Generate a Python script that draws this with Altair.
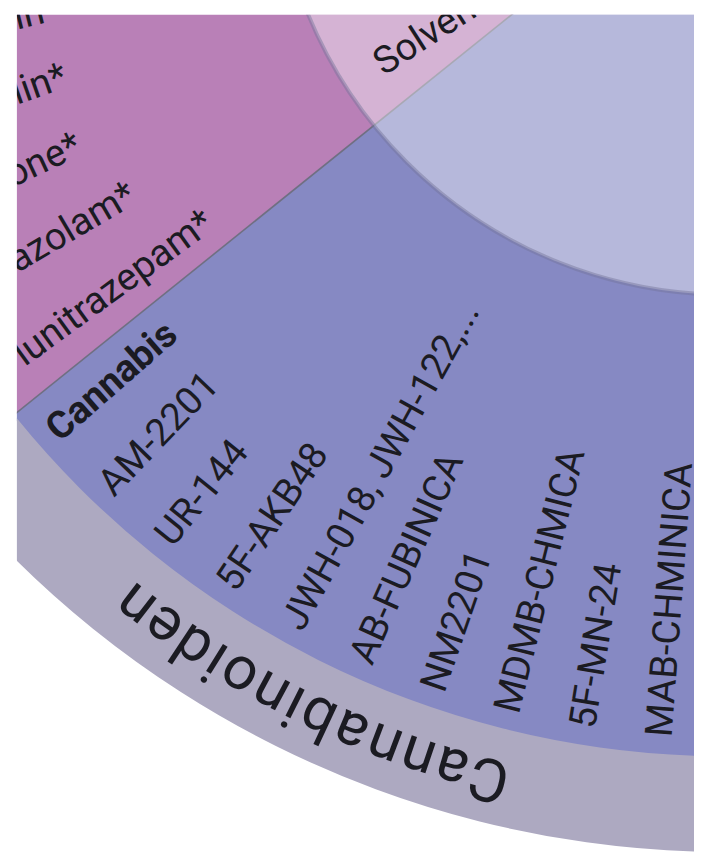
import math
import altair as alt
import pandas as pd

# ---------------- data ----------------
# leaves of the middle ring, in clockwise order (increasing angle)
leaf_labels = ["MAB-CHMINICA", "5F-MN-24", "MDMB-CHMICA", "NM2201", "AB-FUBINICA",
               "JWH-018, JWH-122,...", "5F-AKB48", "UR-144", "AM-2201", "Cannabis",
               "Flunitrazepam*", "Alprazolam*", "Zopiclone*", "Pregabalin*", "Gabapentin"]
leaf_groups = ["Cannabinoiden"] * 10 + ["Sedativa"] * 5
leaf_values = [1.0] * 10 + [1.12] * 5
leaf_bold = [False] * 9 + [True] + [False] * 5
group_names = ["Cannabinoiden", "Sedativa"]
inner_labels = ["Solventen"]
inner_label_angles = [237.3]          # degrees
arc_label_centre_deg = 206.0          # centre of the curved group label
start_angle_deg = 181.8               # first leaf starts here
deg_per_unit = 4.94

# ---------------- layout / style ----------------
W, H = 685, 847
CX, CY = 718, -175          # centre of the (cropped) sunburst, plot coords
R_DISC, R_MID, R_OUT = 458, 925, 1022
R_LABEL, R_INNER_LABEL, R_ARC_LABEL = 908, 420, 976
FONT = "Roboto"
LEAF_FS, ARC_FS, ARC_TRACK = 38.5, 61, 2.6
TXT = "#1b1b22"
group_colors = ["#8689C3", "#B980B7"]
ring_colors = ["#ADA9C1", "#C4A9C3"]

# ---------------- tables ----------------
rows, acc = [], start_angle_deg
for lab, g, v, b in zip(leaf_labels, leaf_groups, leaf_values, leaf_bold):
    t0 = acc
    acc += v * deg_per_unit
    rows.append({"label": lab, "group": g, "t0": math.radians(t0),
                 "t1": math.radians(acc), "tm": math.radians((t0 + acc) / 2), "bold": b})
leaves = pd.DataFrame(rows)
groups = leaves.groupby("group", sort=False).agg(t0=("t0", "min"), t1=("t1", "max")).reset_index()
bounds = pd.DataFrame({"t": [groups["t1"].iloc[0]]})
disc = pd.DataFrame({"t0": [0.0], "t1": [2 * math.pi]})
inner = pd.DataFrame({"label": inner_labels, "tm": [math.radians(a) for a in inner_label_angles]})

# letters of the curved group label (tops outward, reading clockwise)
adv_em = {"C": .653, "a": .544, "n": .552, "b": .561, "i": .243, "o": .570, "d": .563, "e": .529}
word = "Cannabinoiden"
adv = [adv_em.get(c, .55) * ARC_FS for c in word]
centres, xacc = [], 0.0
for a in adv:
    centres.append(xacc + a / 2)
    xacc += a + ARC_TRACK
mid = (centres[0] + centres[-1]) / 2
tmid = math.radians(arc_label_centre_deg)
letters = pd.DataFrame({"ch": list(word),
                        "tm": [tmid + (p - mid) / R_ARC_LABEL for p in centres]})

color_scale = alt.Scale(domain=group_names, range=group_colors)
ring_scale = alt.Scale(domain=group_names, range=ring_colors)


def pos_enc():
    return dict(x=alt.X("px:Q", scale=None, axis=None), y=alt.Y("py:Q", scale=None, axis=None))


wedges = alt.Chart(groups).mark_arc(radius=R_MID + 2, radius2=0, x=CX, y=CY, clip=True).encode(
    theta=alt.Theta("t0:Q", scale=None), theta2="t1:Q",
    color=alt.Color("group:N", scale=color_scale, legend=None))

ring = alt.Chart(groups).mark_arc(radius=R_OUT, radius2=R_MID, x=CX, y=CY, clip=True).encode(
    theta=alt.Theta("t0:Q", scale=None), theta2="t1:Q",
    fill=alt.Fill("group:N", scale=ring_scale, legend=None))

sep = alt.Chart(bounds).transform_calculate(
    x0=f"{CX}", y0=f"{CY}",
    x1=f"{CX} + {R_MID} * sin(datum.t)", y1=f"{CY} - {R_MID} * cos(datum.t)"
).mark_rule(color="#6f6f82", strokeWidth=1.6, clip=True).encode(
    x=alt.X("x0:Q", scale=None, axis=None), y=alt.Y("y0:Q", scale=None, axis=None),
    x2="x1:Q", y2="y1:Q")

overlay = alt.Chart(disc).mark_arc(radius=R_DISC, radius2=0, x=CX, y=CY, clip=True,
                                   fillOpacity=0.4, stroke="#74749a", strokeWidth=4,
                                   strokeOpacity=0.45).encode(
    theta=alt.Theta("t0:Q", scale=None), theta2="t1:Q", fill=alt.value("white"))


def radial_text(data, r, bold, filt=None):
    ch = alt.Chart(data)
    if filt is not None:
        ch = ch.transform_filter(filt)
    ch = ch.transform_calculate(
        ang="(datum.tm * 180 / PI + 90) % 360",
        px=f"{CX} + {r} * sin(datum.tm)", py=f"{CY} - {r} * cos(datum.tm)")
    kw = dict(align="left", baseline="middle", font=FONT, fontSize=LEAF_FS, color=TXT, clip=True)
    if bold:
        kw["fontWeight"] = "bold"
    return ch.mark_text(**kw).encode(text="label:N", angle=alt.Angle("ang:Q", scale=None),
                                     **pos_enc())


leaf_text = radial_text(leaves, R_LABEL, False, "!datum.bold")
leaf_bold_text = radial_text(leaves, R_LABEL, True, "datum.bold")
inner_text = radial_text(inner, R_INNER_LABEL, False)

arc_text = alt.Chart(letters).transform_calculate(
    ang="(datum.tm * 180 / PI) % 360",
    px=f"{CX} + {R_ARC_LABEL} * sin(datum.tm)", py=f"{CY} - {R_ARC_LABEL} * cos(datum.tm)"
).mark_text(align="center", baseline="middle", font=FONT, fontSize=ARC_FS, color=TXT,
            clip=True).encode(text="ch:N", angle=alt.Angle("ang:Q", scale=None), **pos_enc())

chart = alt.layer(wedges, ring, sep, overlay, leaf_text, leaf_bold_text, inner_text, arc_text).resolve_scale(
    color="independent", fill="independent"
).properties(
    width=W, height=H, padding={"left": 9, "top": 2, "right": 0, "bottom": 0},
    autosize=alt.AutoSizeParams(type="none"), background="white"
).configure_view(strokeWidth=0)

chart.save("out.html", embed_options={"renderer": "svg", "actions": False})
